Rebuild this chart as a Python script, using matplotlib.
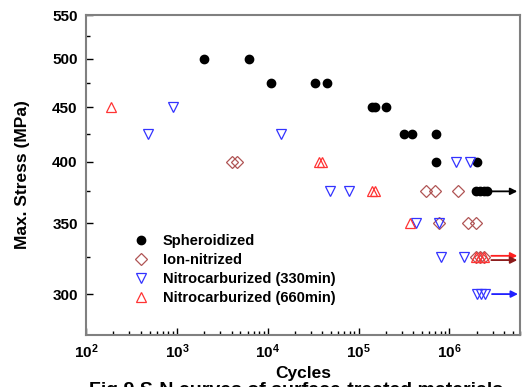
import matplotlib
matplotlib.use('Agg')
import matplotlib.pyplot as plt
from matplotlib.ticker import FixedLocator, FixedFormatter, NullFormatter, LogLocator

plt.rcParams['font.family'] = ['Liberation Sans', 'DejaVu Sans']
plt.rcParams['font.weight'] = 'bold'

# S-N data (cycles, max stress in MPa)
sph_N = [2000, 6300, 11000, 33000, 45000, 142000, 152000, 200000, 320000, 390000,
         720000, 720000, 2.03e6, 1.95e6, 2.15e6, 2.38e6, 2.57e6]
sph_S = [500, 500, 475, 475, 475, 450, 450, 450, 425, 425,
         425, 400, 400, 375, 375, 375, 375]

ion_N = [4000, 4650, 560000, 690000, 1.25e6, 770000, 1.6e6, 1.95e6, 1.95e6, 2.15e6, 2.4e6]
ion_S = [400, 400, 375, 375, 375, 350, 350, 350, 325, 325, 325]

nc330_N = [480, 900, 14000, 49000, 79000, 1.19e6, 1.67e6, 431000, 770000, 815000,
           1.45e6, 2.0e6, 2.25e6, 2.5e6]
nc330_S = [425, 450, 425, 375, 375, 400, 400, 350, 350, 325,
           325, 300, 300, 300]

nc660_N = [190, 36500, 40000, 141000, 150000, 367000, 1.95e6, 2.15e6, 2.4e6]
nc660_S = [450, 400, 400, 375, 375, 350, 325, 325, 325]

# run-out arrows
runout_S = [375, 326, 323, 300]
runout_start = [2.9e6, 2.9e6, 2.9e6, 2.95e6]
runout_end = [5.6e6, 5.6e6, 5.6e6, 5.7e6]
runout_colors = ['black', '#ff2020', '#8b1a1a', '#2020ff']

y_major = [300, 350, 400, 450, 500, 550]
y_minor = [325, 375, 425, 475, 525]

fig = plt.figure(figsize=(5.22, 3.87), dpi=100)
ax = fig.add_axes([0.1648, 0.1344, 0.8314, 0.8268])

ax.plot(sph_N, sph_S, 'o', color='black', markersize=6, linestyle='none', label='Spheroidized')
ax.plot(ion_N, ion_S, 'D', markerfacecolor='none', markeredgecolor='#b05555', markersize=6,
        markeredgewidth=0.9, linestyle='none', label='Ion-nitrized')
ax.plot(nc330_N, nc330_S, 'v', markerfacecolor='none', markeredgecolor='#3333ff', markersize=7,
        markeredgewidth=0.9, linestyle='none', label='Nitrocarburized (330min)')
ax.plot(nc660_N, nc660_S, '^', markerfacecolor='none', markeredgecolor='#ff3333', markersize=7,
        markeredgewidth=0.9, linestyle='none', label='Nitrocarburized (660min)')

for s, x0, x1, c in zip(runout_S, runout_start, runout_end, runout_colors):
    ax.annotate('', xy=(x1, s), xytext=(x0, s),
                arrowprops=dict(arrowstyle='-|>', color=c, lw=1.3, mutation_scale=10,
                                shrinkA=0, shrinkB=0))

ax.set_xscale('log')
ax.set_yscale('log')
ax.set_xlim(100, 6.0e6)
ax.set_ylim(274.5, 550)

ax.yaxis.set_major_locator(FixedLocator(y_major))
ax.yaxis.set_major_formatter(FixedFormatter([str(v) for v in y_major]))
ax.yaxis.set_minor_locator(FixedLocator(y_minor))
ax.yaxis.set_minor_formatter(NullFormatter())
ax.xaxis.set_major_locator(LogLocator(base=10, numticks=10))
ax.xaxis.set_minor_locator(LogLocator(base=10, subs=range(2, 10), numticks=20))
ax.xaxis.set_minor_formatter(NullFormatter())

ax.tick_params(which='both', direction='in', labelsize=11, colors='black')
ax.tick_params(which='major', length=5, width=1)
ax.tick_params(which='minor', length=3, width=1)
ax.tick_params(axis='x', pad=5)
ax.tick_params(axis='y', pad=6)
for spine in ax.spines.values():
    spine.set_color('#808080')
    spine.set_linewidth(1.5)

ax.set_xlabel('Cycles', fontsize=12.5, fontweight='bold', labelpad=4)
ax.set_ylabel('Max. Stress (MPa)', fontsize=12.5, fontweight='bold', labelpad=16)

ax.legend(loc='upper left', bbox_to_anchor=(0.08, 0.335), frameon=False, fontsize=10.5,
          handletextpad=0.5, labelspacing=0.35, borderaxespad=0)

fig.text(0.17, -0.008, 'Fig.9 S-N curves of surface-treated materials', fontsize=14,
         fontweight='bold', va='center', ha='left')

plt.savefig('out.png', dpi=100)
plt.close()
